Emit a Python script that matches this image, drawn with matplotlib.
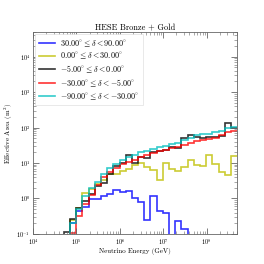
#!/usr/bin/env python
"""Effective area of HESE Bronze + Gold alerts in declination bands"""

import matplotlib
matplotlib.use("Agg")
import matplotlib.pyplot as plt
from matplotlib.lines import Line2D
import numpy as np

plt.rcParams['font.family'] = 'serif'
plt.rcParams['font.serif'] = ['cmr10', 'DejaVu Serif']
plt.rcParams['mathtext.fontset'] = 'cm'
plt.rcParams['axes.formatter.use_mathtext'] = True

# energy bin edges (GeV), 33 log bins from 1e4 to 5e8
energy_edges = np.logspace(4, np.log10(5e8), 34)

# effective area (m^2) per bin, one list per declination band
aeff_north = [0, 0, 0, 0, 0, 0, 0.2, 0.45, 0.58, 0.95, 0.95, 1.2, 1.35,
              1.7, 1.5, 1.6, 1.05, 0.8, 0.24, 1.15, 0.45, 0.4, 0, 0.23,
              0.14, 0, 0, 0, 0, 0, 0, 0, 0]
aeff_horizon_n = [0, 0, 0, 0, 0, 0, 0.25, 0.55, 1.4, 1.8, 2.6, 3.3, 4.8,
                  5.0, 5.8, 7.0, 8.8, 10.0, 7.5, 6.3, 3.3, 9.8, 6.6, 6.1,
                  7.5, 12.0, 8.8, 8.5, 16.5, 9.5, 5.7, 4.5, 15.5]
aeff_horizon_s = [0, 0, 0, 0, 0, 0.115, 0.27, 0.55, 0.85, 1.35, 2.2, 2.8,
                  5.0, 8.5, 10.0, 16.5, 10.0, 15.0, 14.0, 20.0, 22.0, 24.0,
                  28.0, 27.0, 52.0, 60.0, 55.0, 50.0, 53.0, 55.0, 58.0,
                  131.0, 95.0]
aeff_mid_south = [0, 0, 0, 0, 0, 0, 0.105, 0.33, 0.7, 1.25, 2.4, 4.1, 5.7,
                  7.1, 9.4, 11.0, 12.5, 15.0, 17.0, 19.5, 22.0, 24.0, 27.0,
                  28.0, 33.0, 37.0, 41.0, 45.0, 47.0, 52.0, 62.0, 75.0, 80.0]
aeff_south = [0, 0, 0, 0, 0, 0, 0.2, 0.52, 1.2, 2.0, 3.0, 5.0, 7.2, 9.5,
              12.3, 14.5, 17.0, 20.0, 22.5, 25.0, 29.0, 31.0, 35.0, 37.0,
              45.0, 51.0, 62.0, 64.0, 67.0, 74.0, 82.0, 100.0, 102.0]

band_labels = [
    r"$30.00^{\circ} \leq \delta < 90.00^{\circ}$",
    r"$0.00^{\circ} \leq \delta < 30.00^{\circ}$",
    r"$-5.00^{\circ} \leq \delta < 0.00^{\circ}$",
    r"$-30.00^{\circ} \leq \delta < -5.00^{\circ}$",
    r"$-90.00^{\circ} \leq \delta < -30.00^{\circ}$",
]
band_colors = ['b', 'y', 'k', 'r', 'c']


def _main():
    fig = plt.figure(figsize=(2.64, 2.64), dpi=100)
    ax = fig.add_axes([0.125, 0.114, 0.773, 0.765])

    series = [aeff_north, aeff_horizon_n, aeff_horizon_s, aeff_mid_south,
              aeff_south]
    handles = []
    for vals, lab, col in zip(series, band_labels, band_colors):
        ax.stairs(vals, energy_edges, baseline=None, color=col, alpha=0.8,
                  lw=1.2)
        handles.append(Line2D([], [], color=col, alpha=0.8, lw=1.2,
                              label=lab))

    ax.set_xscale('log')
    ax.set_yscale('log')
    ax.set_xlim(1e4, 5e8)
    ax.set_ylim(1e-1, 5e4)

    ax.set_title("HESE Bronze + Gold", fontsize=6, pad=1.5)
    ax.set_xlabel("Neutrino Energy (GeV)", fontsize=5, labelpad=1)
    ax.set_ylabel(r"Effective Area (m$^2$)", fontsize=5, labelpad=1)

    ax.tick_params(which='both', direction='in', top=True, right=True,
                   labelsize=4.5, color='0.4', pad=2)
    ax.tick_params(which='major', length=4, width=0.6)
    ax.tick_params(which='minor', length=2, width=0.4)
    for sp in ax.spines.values():
        sp.set_color('0.4')
        sp.set_linewidth(0.6)

    leg = ax.legend(handles=handles, loc='upper left', fontsize=5.8,
                    handlelength=2.0, handletextpad=0.6, borderpad=0.45,
                    labelspacing=0.22, framealpha=1.0, fancybox=False,
                    borderaxespad=0.25)
    leg.get_frame().set_linewidth(0.4)
    leg.get_frame().set_edgecolor('0.85')

    fig.savefig("out.png", dpi=100)
    return 0


if __name__ == "__main__":
    _main()
